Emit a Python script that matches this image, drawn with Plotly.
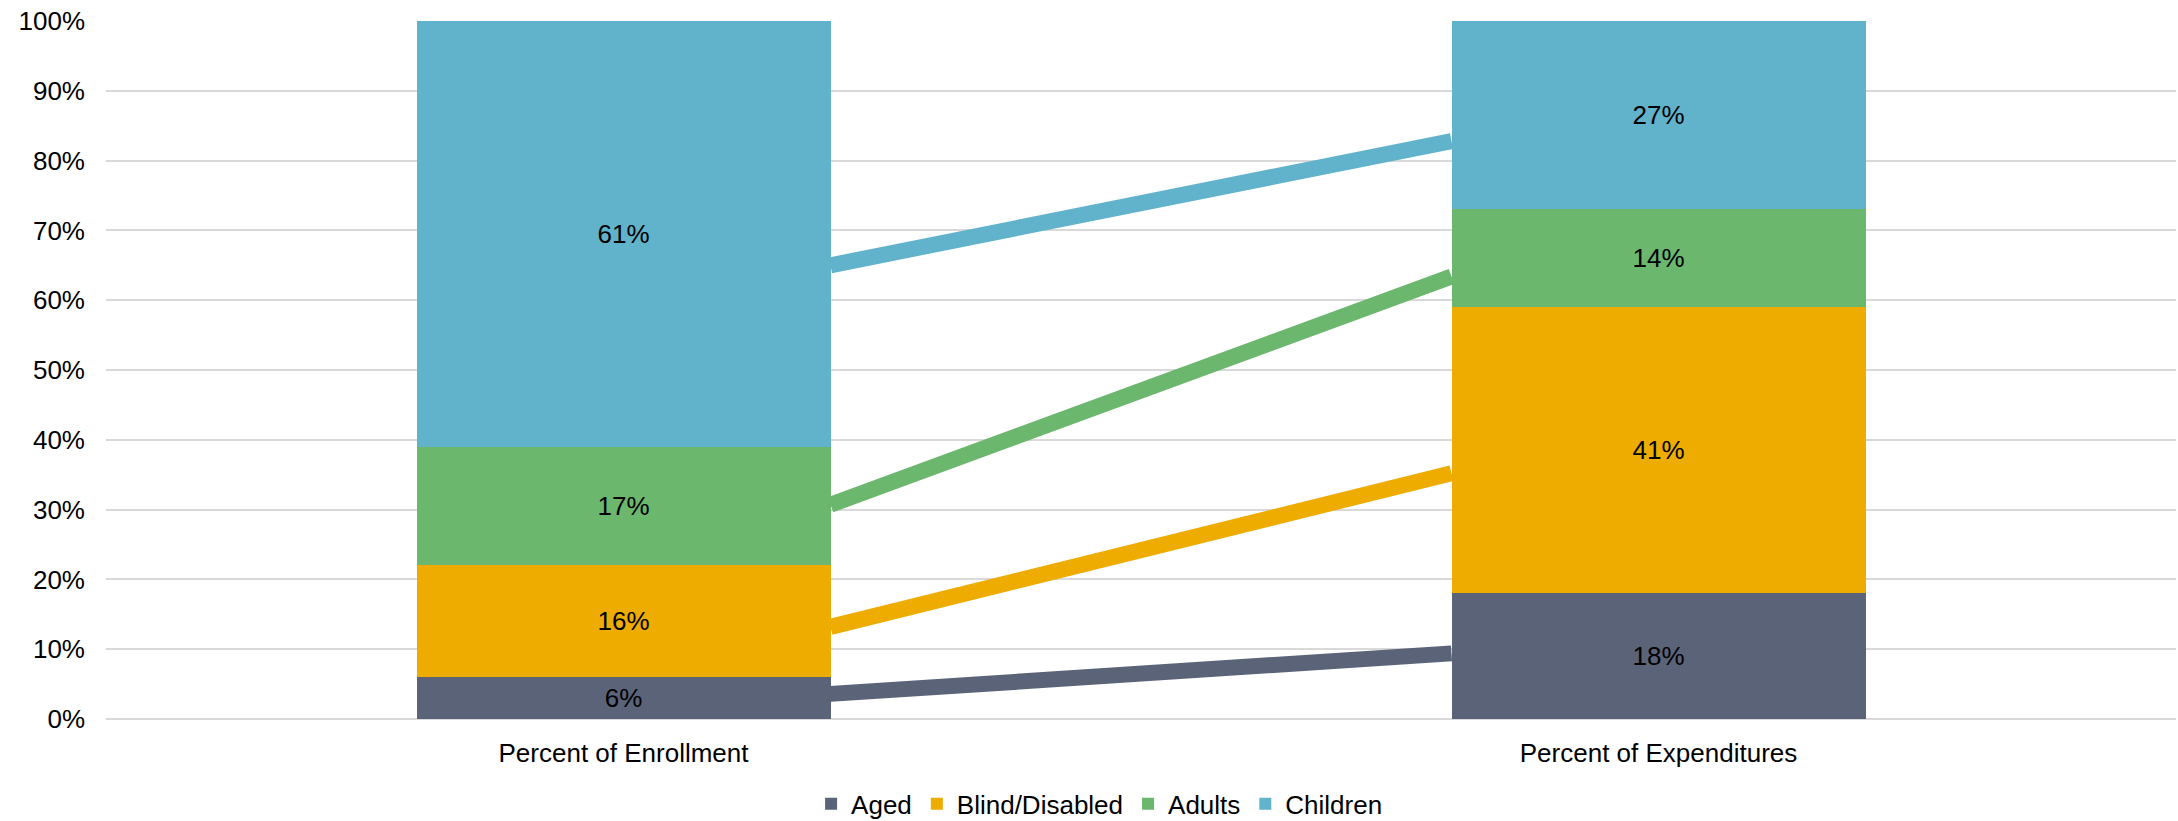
import plotly.graph_objects as go

# ---- data ----
categories = ["Percent of Enrollment", "Percent of Expenditures"]
series_names = ["Aged", "Blind/Disabled", "Adults", "Children"]
aged = [6, 18]
blind_disabled = [16, 41]
adults = [17, 14]
children = [61, 27]
# connector lines (value at left bar edge, value at right bar edge)
connector_start = [3.6, 13.2, 30.7, 65.0]
connector_end = [9.4, 35.2, 63.4, 82.8]
y_ticks = [0, 10, 20, 30, 40, 50, 60, 70, 80, 90, 100]

colors = ["#5B6378", "#EFAC00", "#6CB76E", "#61B3CB"]
series_values = [aged, blind_disabled, adults, children]

FONT = "Liberation Sans, Arial, sans-serif"
positions = list(range(len(categories)))
bar_w = 0.4

fig = go.Figure()
for name, vals, col in zip(series_names, series_values, colors):
    fig.add_trace(go.Bar(
        x=positions, y=vals, name=name, width=bar_w,
        marker=dict(color=col, line=dict(width=0)),
        text=[f"{v}%" for v in vals], textposition="inside",
        insidetextanchor="middle", constraintext="none",
        textfont=dict(family=FONT, size=26, color="#000000"),
        hoverinfo="skip",
    ))

line_x = [positions[0] + bar_w / 2, positions[1] - bar_w / 2]
for s, e, col in zip(connector_start, connector_end, colors):
    fig.add_trace(go.Scatter(
        x=line_x, y=[s, e], mode="lines",
        line=dict(color=col, width=16),
        showlegend=False, hoverinfo="skip",
    ))

fig.update_layout(
    width=2178, height=821,
    barmode="stack",
    margin=dict(l=106, r=2, t=21, b=102, autoexpand=False),
    paper_bgcolor="white", plot_bgcolor="white",
    font=dict(family=FONT, size=26, color="#000000"),
    showlegend=True,
    legend=dict(
        orientation="h", x=0.480, xanchor="center",
        yref="container", y=0.021, yanchor="middle",
        font=dict(family=FONT, size=26, color="#000000"),
        traceorder="normal", itemwidth=30,
    ),
    xaxis=dict(
        range=[-0.5, 1.5], tickvals=positions, ticktext=categories,
        showgrid=False, zeroline=False, showline=False, ticks="",
        tickfont=dict(family=FONT, size=26, color="#000000"),
        ticklabelstandoff=16, automargin=False,
    ),
    yaxis=dict(
        range=[0, 100], tickvals=y_ticks, ticktext=[f"{t}%" for t in y_ticks],
        showgrid=True, gridcolor="#D9D9D9", gridwidth=2,
        zeroline=True, zerolinecolor="#D9D9D9", zerolinewidth=2,
        showline=False, ticks="",
        tickfont=dict(family=FONT, size=26, color="#000000"),
        ticklabelstandoff=20, automargin=False,
    ),
)

fig.write_html("out.html", config={"displayModeBar": False},
               post_script="document.body.style.margin='0';")
